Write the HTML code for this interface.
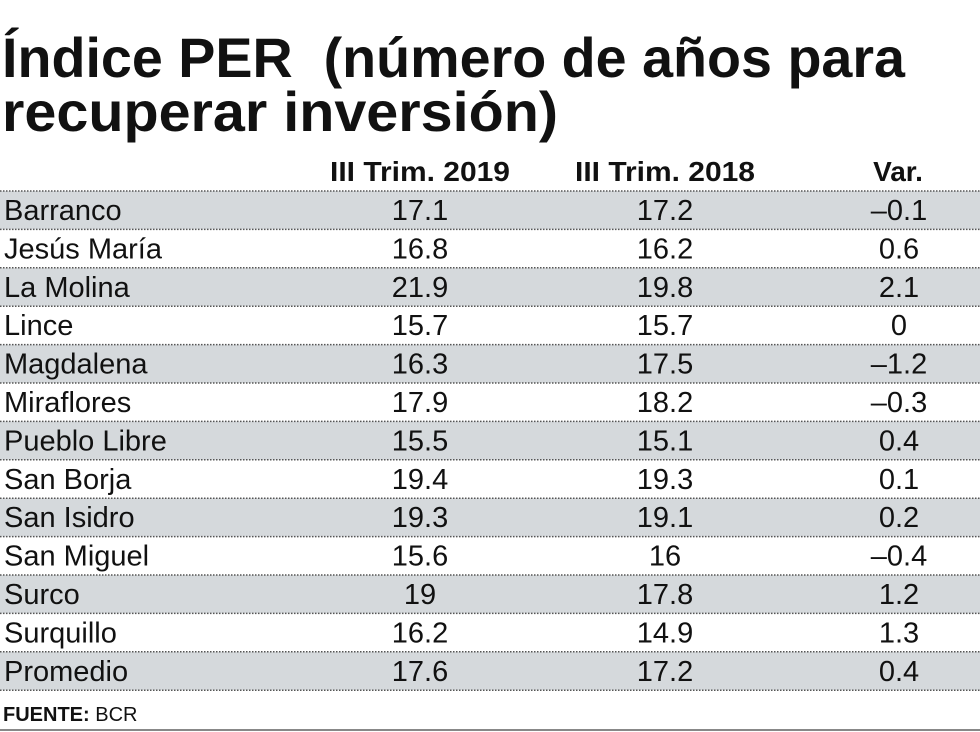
<!DOCTYPE html>
<html><head><meta charset="utf-8"><style>
html,body{margin:0;padding:0;background:#fff;}
svg{display:block;font-family:"Liberation Sans",sans-serif;}
</style></head><body>
<svg id="s" width="980" height="732" viewBox="0 0 980 732">
<rect x="0" y="0" width="980" height="732" fill="#fff"/>
<text x="2" y="77" font-size="56" font-weight="bold" fill="#111" textLength="903" lengthAdjust="spacingAndGlyphs">Índice PER&#160;&#160;(número de años para</text>
<text x="2" y="131" font-size="56" font-weight="bold" fill="#111" textLength="556" lengthAdjust="spacingAndGlyphs">recuperar inversión)</text>
<text x="420" y="181" font-size="28" font-weight="bold" text-anchor="middle" fill="#111" textLength="180" lengthAdjust="spacingAndGlyphs">III Trim. 2019</text>
<text x="665" y="181" font-size="28" font-weight="bold" text-anchor="middle" fill="#111" textLength="180" lengthAdjust="spacingAndGlyphs">III Trim. 2018</text>
<text x="898" y="181" font-size="28" font-weight="bold" text-anchor="middle" fill="#111">Var.</text>
<g id="rows"></g>
<text x="3" y="721" font-size="20" font-weight="bold" fill="#111">FUENTE:<tspan font-weight="normal"> BCR</tspan></text>
<line x1="0" y1="730" x2="980" y2="730" stroke="#888" stroke-width="2"/>
</svg>
<script>
const districts=["Barranco","Jesús María","La Molina","Lince","Magdalena","Miraflores","Pueblo Libre","San Borja","San Isidro","San Miguel","Surco","Surquillo","Promedio"];
const values2019=["17.1","16.8","21.9","15.7","16.3","17.9","15.5","19.4","19.3","15.6","19","16.2","17.6"];
const values2018=["17.2","16.2","19.8","15.7","17.5","18.2","15.1","19.3","19.1","16","17.8","14.9","17.2"];
const variation=["–0.1","0.6","2.1","0","–1.2","–0.3","0.4","0.1","0.2","–0.4","1.2","1.3","0.4"];
const NS="http://www.w3.org/2000/svg";
const g=document.getElementById('rows');
const top0=191,rh=38.4;
function mk(tag,attrs,txt){const e=document.createElementNS(NS,tag);for(const k in attrs)e.setAttribute(k,attrs[k]);if(txt!=null)e.textContent=txt;g.appendChild(e);return e;}
districts.forEach((d,i)=>{
  const y=top0+i*rh;
  if(i%2===0){
    const r=mk('rect',{x:0,y:y,width:980,height:rh,fill:'#d5d9dc'});
    
    
  }
  const l=mk('line',{x1:0,y1:y,x2:980,y2:y,stroke:'#555','stroke-width':1.5,'stroke-dasharray':'1.5 1.5'});
  
  
  const by=y+29;
  const t1=mk('text',{x:4,y:by,'font-size':29,fill:'#111'},d);
  
  
  const t2=mk('text',{x:420,y:by,'font-size':29,fill:'#111','text-anchor':'middle'},values2019[i]);
  
  
  const t3=mk('text',{x:665,y:by,'font-size':29,fill:'#111','text-anchor':'middle'},values2018[i]);
  
  
  const t4=mk('text',{x:899,y:by,'font-size':29,fill:'#111','text-anchor':'middle'},variation[i]);
  
  
});
const yl=top0+districts.length*rh;
const lb=mk('line',{x1:0,y1:yl,x2:980,y2:yl,stroke:'#555','stroke-width':1.5,'stroke-dasharray':'1.5 1.5'});


</script>
</body></html>
